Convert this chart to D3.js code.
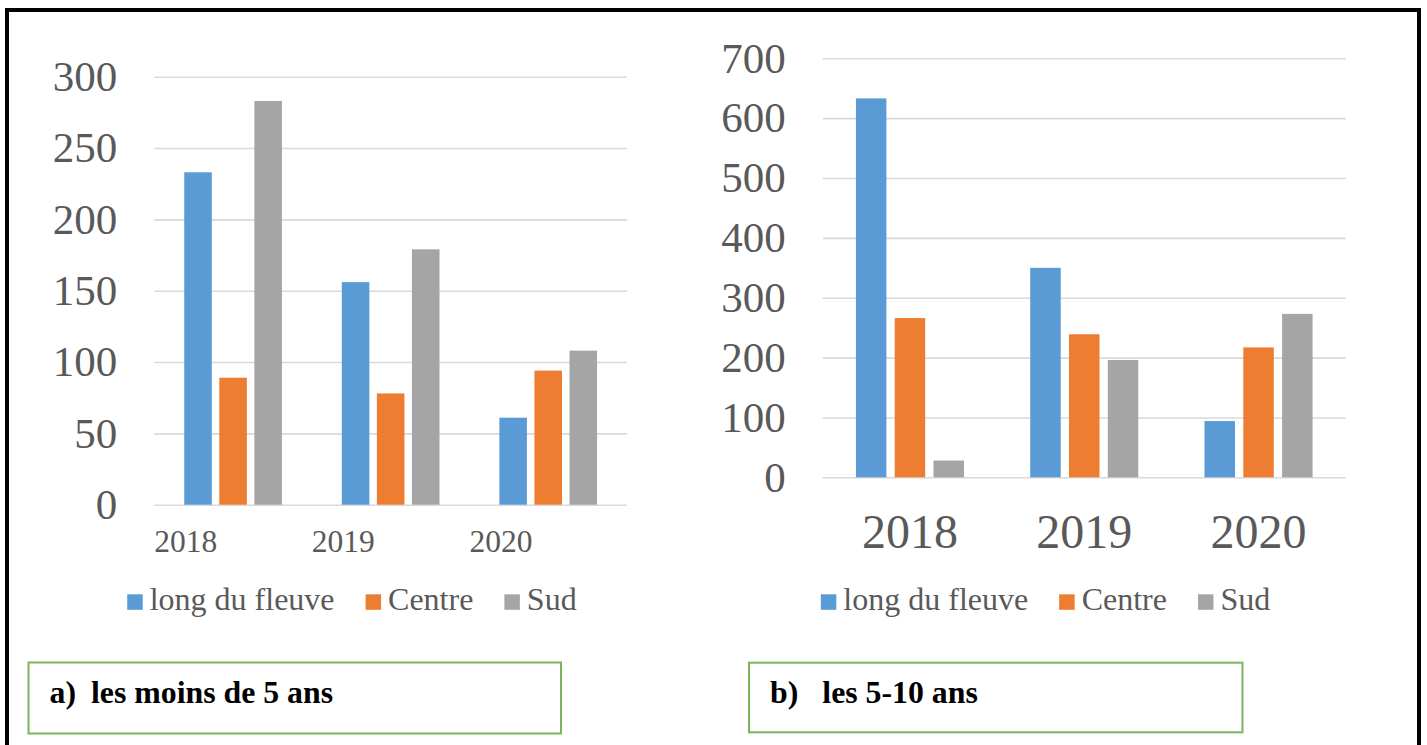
<!DOCTYPE html>
<html>
<head>
<meta charset="utf-8">
<script src="https://cdn.jsdelivr.net/npm/d3@7"></script>
<style>
  html, body { margin: 0; padding: 0; background: #fff; overflow: hidden; }
  svg { display: block; }
</style>
</head>
<body>
<svg id="fig" width="1427" height="745"></svg>
<script>
// Années et zones
const categories = ["2018", "2019", "2020"];
const seriesNames = ["long du fleuve", "Centre", "Sud"];

// a) les moins de 5 ans
const under5Fleuve = [233, 156, 61];
const under5Centre = [89, 78, 94];
const under5Sud = [283, 179, 108];
const under5Ticks = [0, 50, 100, 150, 200, 250, 300];

// b) les 5-10 ans
const age5to10Fleuve = [633, 350, 94];
const age5to10Centre = [266, 239, 217];
const age5to10Sud = [28, 196, 273];
const age5to10Ticks = [0, 100, 200, 300, 400, 500, 600, 700];

// Légendes des panneaux
const captionLetters = ["a)", "b)"];
const captionTexts = ["les moins de 5 ans", "les 5-10 ans"];

const colors = ["#5B9BD5", "#ED7D31", "#A5A5A5"];
const textColor = "#595959";
const gridColor = "#D9D9D9";
const serif = "'Liberation Serif', 'Times New Roman', serif";

const svg = d3.select("#fig");

// Cadre noir englobant
svg.append("rect")
  .attr("x", 7).attr("y", 10)
  .attr("width", 1412).attr("height", 780)
  .attr("fill", "none").attr("stroke", "#000").attr("stroke-width", 4);

const panels = [
  {
    series: [under5Fleuve, under5Centre, under5Sud], ticks: under5Ticks,
    left: 154.3, right: 627, top: 76.7, bottom: 504.7,
    yFont: 43, xFont: 31.5, xAlign: "start", xBaseline: 552,
    legendY: 594.3,
    box: { x: 28.5, y: 662.5, w: 532.5, h: 71 }, labelDx: 21, textDx: 62.5,
    caption: 0
  },
  {
    series: [age5to10Fleuve, age5to10Centre, age5to10Sud], ticks: age5to10Ticks,
    left: 822.8, right: 1345.7, top: 58.3, bottom: 477.3,
    yFont: 43, xFont: 48, xAlign: "middle", xBaseline: 548,
    legendY: 594.3,
    box: { x: 749, y: 662.7, w: 493.5, h: 69.6 }, labelDx: 21, textDx: 73.3,
    caption: 1
  }
];

panels.forEach(p => {
  const g = svg.append("g");
  const maxTick = d3.max(p.ticks);

  const y = d3.scaleLinear().domain([0, maxTick]).range([p.bottom, p.top]);
  const x0 = d3.scaleBand().domain(categories).range([p.left, p.right]).paddingInner(0).paddingOuter(0);
  const groupW = x0.bandwidth() * 0.62;
  const x1 = d3.scaleBand().domain(seriesNames).range([0, groupW]).paddingInner(0.214).paddingOuter(0);

  // Axe des ordonnées avec quadrillage horizontal
  const yAxis = d3.axisLeft(y)
    .tickValues(p.ticks)
    .tickSize(-(p.right - p.left))
    .tickPadding(37)
    .tickFormat(d3.format("d"));
  const ya = g.append("g")
    .attr("transform", `translate(${p.left},0)`)
    .call(yAxis);
  ya.select(".domain").remove();
  ya.selectAll(".tick line").attr("stroke", gridColor).attr("stroke-width", 1.6);
  ya.selectAll(".tick text")
    .attr("fill", textColor)
    .style("font-family", serif)
    .style("font-size", p.yFont + "px");

  // Barres groupées
  const rows = categories.map((c, i) => ({ cat: c, values: p.series.map((s, k) => ({ name: seriesNames[k], v: s[i], k })) }));
  const grp = g.selectAll("g.cat").data(rows).join("g")
    .attr("class", "cat")
    .attr("transform", d => `translate(${x0(d.cat) + (x0.bandwidth() - groupW) / 2},0)`);
  grp.selectAll("rect").data(d => d.values).join("rect")
    .attr("x", d => x1(d.name))
    .attr("width", x1.bandwidth())
    .attr("y", d => y(d.v))
    .attr("height", d => y(0) - y(d.v))
    .attr("fill", d => colors[d.k]);

  // Étiquettes des années
  g.selectAll("text.cat").data(categories).join("text")
    .attr("class", "cat")
    .attr("x", d => p.xAlign === "start" ? x0(d) : x0(d) + x0.bandwidth() / 2)
    .attr("y", p.xBaseline)
    .attr("text-anchor", p.xAlign)
    .attr("fill", textColor)
    .style("font-family", serif)
    .style("font-size", p.xFont + "px")
    .text(d => d);

  // Légende
  const sq = 15.5, gapText = 7, gapItem = 31, legFont = 32;
  const leg = g.append("g");
  const items = leg.selectAll("g").data(seriesNames).join("g");
  items.append("rect")
    .attr("width", sq).attr("height", sq)
    .attr("y", p.legendY)
    .attr("fill", (d, i) => colors[i]);
  items.append("text")
    .attr("y", p.legendY + 16)
    .attr("fill", textColor)
    .style("font-family", serif)
    .style("font-size", legFont + "px")
    .text(d => d);
  const widths = [];
  items.select("text").each(function () { widths.push(this.getComputedTextLength()); });
  const total = d3.sum(widths) + seriesNames.length * (sq + gapText) + (seriesNames.length - 1) * gapItem;
  let cx = (p.left + p.right) / 2 - 38.7 - total / 2;
  items.each(function (d, i) {
    const it = d3.select(this);
    it.select("rect").attr("x", cx);
    it.select("text").attr("x", cx + sq + gapText);
    cx += sq + gapText + widths[i] + gapItem;
  });

  // Encadré de titre
  svg.append("rect")
    .attr("x", p.box.x).attr("y", p.box.y)
    .attr("width", p.box.w).attr("height", p.box.h)
    .attr("fill", "#fff").attr("stroke", "#7AB55C").attr("stroke-width", 2);
  const cap = svg.append("text")
    .attr("y", p.box.y + 40.7)
    .attr("fill", "#000")
    .style("font-family", serif)
    .style("font-weight", "bold")
    .style("font-size", "31.8px");
  cap.append("tspan").attr("x", p.box.x + p.labelDx).text(captionLetters[p.caption]);
  cap.append("tspan").attr("x", p.box.x + p.textDx).text(captionTexts[p.caption]);
});
</script>
</body>
</html>
